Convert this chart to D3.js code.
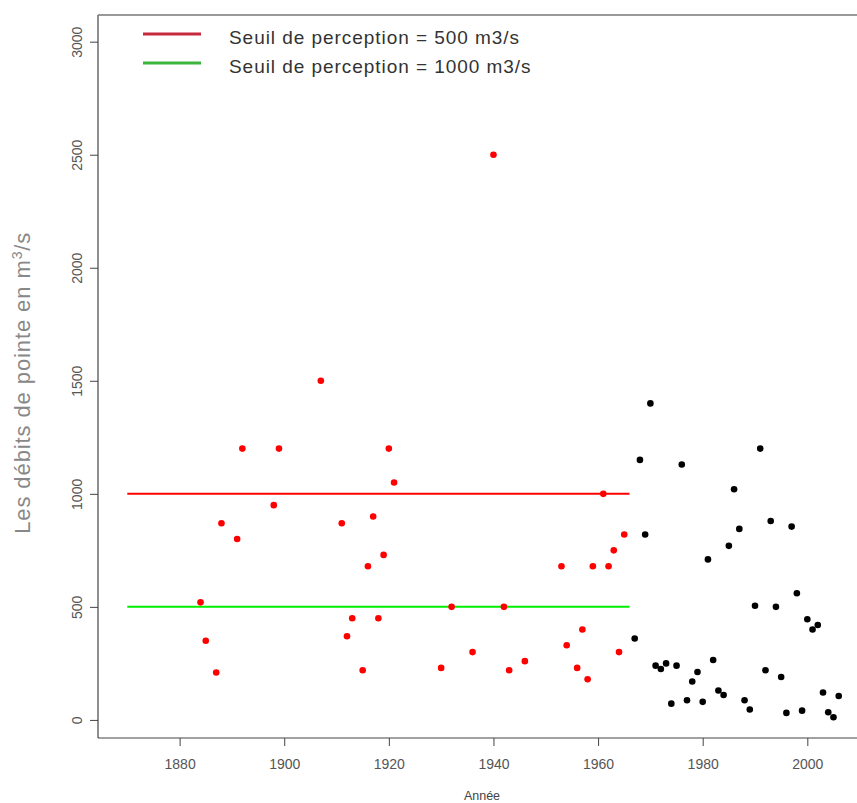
<!DOCTYPE html>
<html>
<head>
<meta charset="utf-8">
<script src="https://cdn.jsdelivr.net/npm/d3@7"></script>
<style>
  html, body { margin: 0; padding: 0; background: #fff; }
  svg { display: block; }
</style>
</head>
<body>
<svg id="chart" width="857" height="803"></svg>
<script>
// Annual peak discharges, historical period (red) and gauged period (black)
const redYears = [1884,1885,1887,1888,1891,1892,1898,1899,1907,1911,1912,1913,1915,1916,1917,1918,1919,1920,1921,1930,1932,1936,1940,1942,1943,1946,1953,1954,1956,1957,1958,1959,1961,1962,1963,1964,1965];
const redValues = [520,350,210,870,800,1200,950,1200,1500,870,370,450,220,680,900,450,730,1200,1050,230,500,300,2500,500,220,260,680,330,230,400,180,680,1000,680,750,300,820];

const blackYears = [1967,1968,1969,1970,1971,1972,1973,1974,1975,1976,1977,1978,1979,1980,1981,1982,1983,1984,1985,1986,1987,1988,1989,1990,1991,1992,1993,1994,1995,1996,1997,1998,1999,2000,2001,2002,2003,2004,2005,2006];
const blackValues = [360,1150,820,1400,240,225,250,72,240,1130,87,170,212,80,710,265,130,110,770,1020,845,87,46,505,1200,220,880,500,190,31,855,560,41,445,400,420,121,34,12,106];

// Perception thresholds drawn over the historical period
const thresholdValues = [1000, 500];
const thresholdColors = ["#ff0000", "#00ee00"];
const thresholdSpan = [1870, 1966];

// Legend entries
const legendLabels = ["Seuil de perception = 500 m3/s", "Seuil de perception = 1000 m3/s"];
const legendColors = ["#c8283c", "#3cb43c"];

// Tick labels
const xTicks = [1880, 1900, 1920, 1940, 1960, 1980, 2000];
const yTicks = [0, 500, 1000, 1500, 2000, 2500, 3000];

const svg = d3.select("#chart");
const plotLeft = 98, plotRight = 868, plotTop = 15, plotBottom = 738;

const x = d3.scaleLinear().domain([1864.4, 2011.6]).range([plotLeft, plotRight]);
const y = d3.scaleLinear().domain([-80, 3118]).range([plotBottom, plotTop]);

const sans = "'Liberation Sans', Arial, sans-serif";

// Plot frame
svg.append("line").attr("x1", plotLeft).attr("x2", plotLeft).attr("y1", plotTop).attr("y2", plotBottom)
  .attr("stroke", "#444").attr("stroke-width", 1.2);
svg.append("line").attr("x1", plotLeft).attr("x2", 857).attr("y1", plotBottom).attr("y2", plotBottom)
  .attr("stroke", "#444").attr("stroke-width", 1.2);
svg.append("line").attr("x1", plotLeft).attr("x2", 857).attr("y1", plotTop).attr("y2", plotTop)
  .attr("stroke", "#777").attr("stroke-width", 1.5);

// X axis
const xAxis = svg.append("g")
  .attr("transform", `translate(0,${plotBottom})`)
  .call(d3.axisBottom(x).tickValues(xTicks).tickSize(8).tickPadding(13).tickFormat(d3.format("d")));
xAxis.select(".domain").remove();
xAxis.selectAll(".tick line").attr("stroke", "#444");
xAxis.selectAll(".tick text")
  .attr("font-family", sans).attr("font-size", 14).attr("fill", "#555");

// Y axis with rotated tick labels
const yAxis = svg.append("g")
  .attr("transform", `translate(${plotLeft},0)`)
  .call(d3.axisLeft(y).tickValues(yTicks).tickSize(8).tickFormat(d3.format("d")));
yAxis.select(".domain").remove();
yAxis.selectAll(".tick line").attr("stroke", "#444");
yAxis.selectAll(".tick text")
  .attr("font-family", sans).attr("font-size", 14).attr("fill", "#555")
  .attr("text-anchor", "middle").attr("dy", null)
  .attr("x", null)
  .attr("transform", "translate(-16,0) rotate(-90)");

// Axis titles
svg.append("text")
  .attr("x", 482).attr("y", 800)
  .attr("text-anchor", "middle")
  .attr("font-family", sans).attr("font-size", 12.5)
  .attr("fill", "#444").text("Année");

const yTitle = svg.append("text")
  .attr("transform", `translate(30,${(y(0) + y(3000)) / 2 + 2}) rotate(-90)`)
  .attr("text-anchor", "middle")
  .attr("font-family", sans).attr("font-size", 22).attr("letter-spacing", 0.9)
  .attr("fill", "#888");
yTitle.append("tspan").text("Les débits de pointe en m");
yTitle.append("tspan").attr("dy", -8).attr("font-size", 14).text("3");
yTitle.append("tspan").attr("dy", 8).text("/s");

// Threshold lines
svg.selectAll("line.threshold")
  .data(thresholdValues)
  .join("line")
  .attr("class", "threshold")
  .attr("x1", x(thresholdSpan[0])).attr("x2", x(thresholdSpan[1]))
  .attr("y1", d => y(d)).attr("y2", d => y(d))
  .attr("stroke", (d, i) => thresholdColors[i]).attr("stroke-width", 2);

// Points
svg.append("g").selectAll("circle")
  .data(redYears.map((yr, i) => [yr, redValues[i]]))
  .join("circle")
  .attr("cx", d => x(d[0])).attr("cy", d => y(d[1])).attr("r", 3.3)
  .attr("fill", "#ff0000");

svg.append("g").selectAll("circle")
  .data(blackYears.map((yr, i) => [yr, blackValues[i]]))
  .join("circle")
  .attr("cx", d => x(d[0])).attr("cy", d => y(d[1])).attr("r", 3.3)
  .attr("fill", "#000");

// Legend
const legend = svg.append("g");
legend.selectAll("line")
  .data(legendLabels)
  .join("line")
  .attr("x1", 143).attr("x2", 201)
  .attr("y1", (d, i) => 34 + i * 29).attr("y2", (d, i) => 34 + i * 29)
  .attr("stroke", (d, i) => legendColors[i]).attr("stroke-width", 3);
legend.selectAll("text")
  .data(legendLabels)
  .join("text")
  .attr("x", 229)
  .attr("y", (d, i) => 44 + i * 29)
  .attr("font-family", sans).attr("font-size", 19).attr("letter-spacing", 0.95)
  .attr("fill", "#333")
  .text(d => d);
</script>
</body>
</html>
